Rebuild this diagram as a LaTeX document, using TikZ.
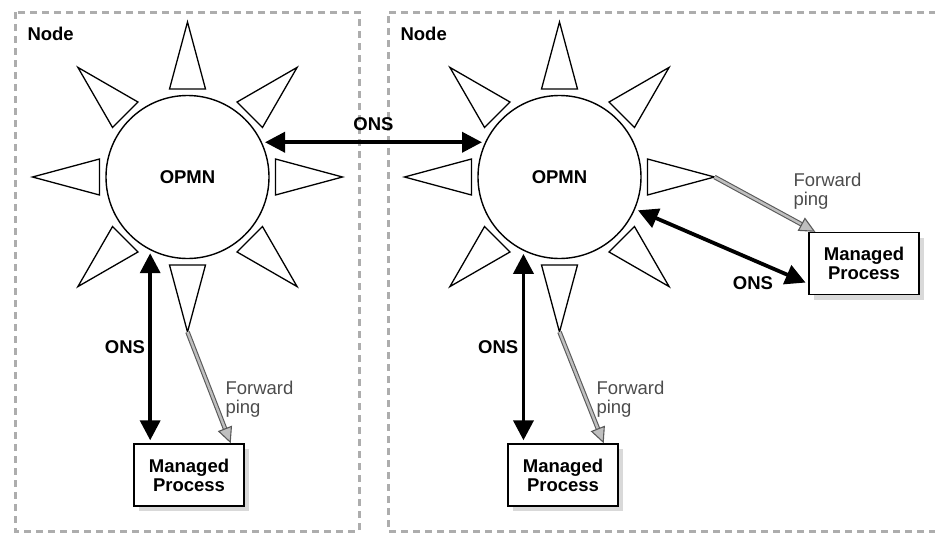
\documentclass[tikz,border=0pt]{standalone}
\usepackage{fontspec}
\setmainfont{Liberation Sans}
\usetikzlibrary{arrows.meta,shadows}

\begin{document}
\begin{tikzpicture}[x=1pt,y=-1pt,
	box/.style={draw=black!32, line width=3pt, dash pattern=on 7pt off 5pt},
	lbl/.style={font=\bfseries\fontsize{18.5}{19}\selectfont},
	opmn/.style={circle, draw, line width=1.4pt, minimum size=163pt, inner sep=0pt, lbl},
	ray/.style={draw, line width=1.3pt, line join=miter},
	ons/.style={line width=3.8pt, {Triangle[length=20pt,width=20pt]}-{Triangle[length=20pt,width=20pt]}, shorten <=3pt, shorten >=3pt},
	fping/.style={draw=black!25, line width=2.4pt,
		preaction={draw=black!65, line width=4.6pt, arrows=-, shorten >=13pt},
		-{Triangle[length=16pt,width=15pt,color=black!65,fill=black!25,line width=1.1pt]}},
	ping/.style={anchor=west, align=left, text=black!70, font=\fontsize{18.5}{19}\selectfont},
	mp/.style={draw, fill=white, line width=1.4pt, minimum width=110pt, minimum height=62pt, align=center, lbl,
		drop shadow={shadow xshift=5pt, shadow yshift=-5pt, fill=black!15, opacity=1}}]
	\useasboundingbox (0,0) rectangle (935,533);
	\clip (0,0) rectangle (935,533);

	% node frames
	\draw[box] (15,12) rectangle (359,531);
	\draw[box] (960,12) -- (388,12) -- (388,531) -- (960,531);
	\node[lbl, anchor=west] (nodeL) at (24,34) {Node};
	\node[lbl, anchor=west] (nodeR) at (397,34) {Node};

	% the two OPMN suns
	\node[opmn] (opmnL) at (187.5,177) {OPMN};
	\node[opmn] (opmnR) at (559.5,177) {OPMN};
	\foreach \s in {L,R}
		\foreach \a in {0,45,...,315}
			\draw[ray, shift={(opmn\s.center)}, rotate=\a] (88,-18) -- (155,0) coordinate (\s-\a) -- (88,18) -- cycle;

	% managed processes
	\node[mp] (mpL) at (189,475) {Managed\\Process};
	\node[mp] (mpR) at (563,475) {Managed\\Process};
	\node[mp] (mpE) at (864,263.5) {Managed\\Process};

	% ONS links
	\draw[ons] (opmnL.25) -- (opmnR.155) node[lbl, midway, above=6pt] (onsT) {ONS};
	\draw[ons] (opmnL.243) -- (opmnL.243 |- mpL.north) node[lbl, midway, left=0pt] (onsL) {ONS};
	\draw[ons] (opmnR.244) -- (opmnR.244 |- mpR.north) node[lbl, midway, left=0pt] (onsR) {ONS};
	\draw[ons] (opmnR.-23) -- (mpE.200) node[lbl, pos=0.68, below=11pt] (onsE) {ONS};

	% forward pings
	\draw[fping] (L-270) -- ([xshift=-14pt]mpL.north east);
	\draw[fping] (R-270) -- ([xshift=-15pt]mpR.north east);
	\draw[fping] (R-0) -- ([xshift=7pt]mpE.north west);
	\node[ping] (pingL) at (222,399) {Forward\\ping};
	\node[ping] (pingR) at (593,399) {Forward\\ping};
	\node[ping] (pingE) at (790,191) {Forward\\ping};
\end{tikzpicture}
\end{document}
